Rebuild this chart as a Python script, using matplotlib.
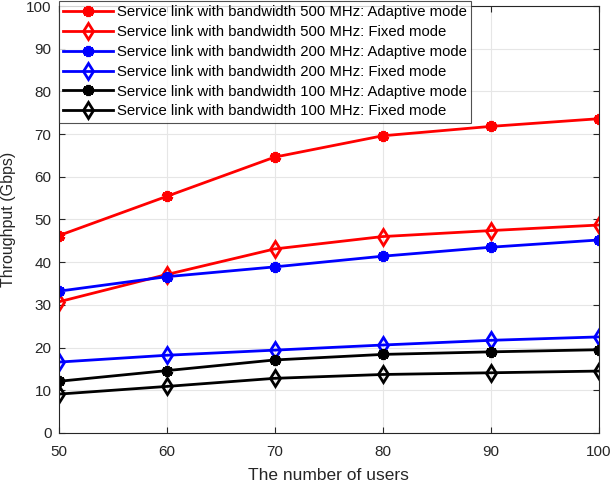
import matplotlib
matplotlib.use("Agg")
import matplotlib.pyplot as plt

plt.rcParams['font.family'] = ['Liberation Sans', 'DejaVu Sans']

# number of users
users = [50, 60, 70, 80, 90, 100]

# throughput values (Gbps)
bw500_adaptive = [46.2, 55.4, 64.6, 69.6, 71.8, 73.6]
bw500_fixed = [30.7, 37.1, 43.1, 46.0, 47.4, 48.7]
bw200_adaptive = [33.2, 36.6, 38.9, 41.4, 43.5, 45.2]
bw200_fixed = [16.6, 18.2, 19.4, 20.6, 21.7, 22.5]
bw100_adaptive = [12.1, 14.6, 17.1, 18.4, 19.0, 19.5]
bw100_fixed = [9.1, 10.9, 12.8, 13.7, 14.1, 14.5]

x_ticks = [50, 60, 70, 80, 90, 100]
y_ticks = [0, 10, 20, 30, 40, 50, 60, 70, 80, 90, 100]

fig = plt.figure(figsize=(6.14, 4.84), dpi=100)
ax = fig.add_axes([0.0953, 0.1054, 0.8795, 0.8822])

asterisk = (6, 2, 0)
series = [
    (bw500_adaptive, 'red', asterisk, 'Service link with bandwidth 500 MHz: Adaptive mode'),
    (bw500_fixed, 'red', 'd', 'Service link with bandwidth 500 MHz: Fixed mode'),
    (bw200_adaptive, 'blue', asterisk, 'Service link with bandwidth 200 MHz: Adaptive mode'),
    (bw200_fixed, 'blue', 'd', 'Service link with bandwidth 200 MHz: Fixed mode'),
    (bw100_adaptive, 'black', asterisk, 'Service link with bandwidth 100 MHz: Adaptive mode'),
    (bw100_fixed, 'black', 'd', 'Service link with bandwidth 100 MHz: Fixed mode'),
]

for vals, col, mk, lab in series:
    if mk == 'd':
        ax.plot(users, vals, color=col, linewidth=2, marker='d', markersize=8,
                markerfacecolor='none', markeredgewidth=2, label=lab)
    else:
        ax.plot(users, vals, color=col, linewidth=2, marker=mk, markersize=8,
                markeredgewidth=2.8, label=lab)

ax.set_xlim(50, 100)
ax.set_ylim(0, 100)
ax.set_xticks(x_ticks)
ax.set_yticks(y_ticks)
ax.grid(True, color='#e6e6e6', linewidth=0.8)
ax.set_axisbelow(True)
ax.tick_params(direction='in', labelsize=11, colors='#262626', length=4,
               top=True, right=True)
ax.tick_params(axis='x', pad=9)
ax.tick_params(axis='y', pad=5)
for s in ax.spines.values():
    s.set_color('#262626')
    s.set_linewidth(0.8)

ax.set_xlabel('The number of users', fontsize=12.5, color='#262626', labelpad=6)
ax.set_ylabel('Throughput (Gbps)', fontsize=11.5, color='#262626', labelpad=7)

leg = ax.legend(loc='upper left', bbox_to_anchor=(58.5 / 614, 1 - 1 / 484),
                bbox_transform=fig.transFigure, fontsize=10.7, frameon=True,
                fancybox=False, edgecolor='#262626', handlelength=3.36,
                borderaxespad=0, labelspacing=0.39, borderpad=0.3,
                handletextpad=0.27)
leg.get_frame().set_linewidth(0.8)

fig.savefig('out.png', dpi=100)
